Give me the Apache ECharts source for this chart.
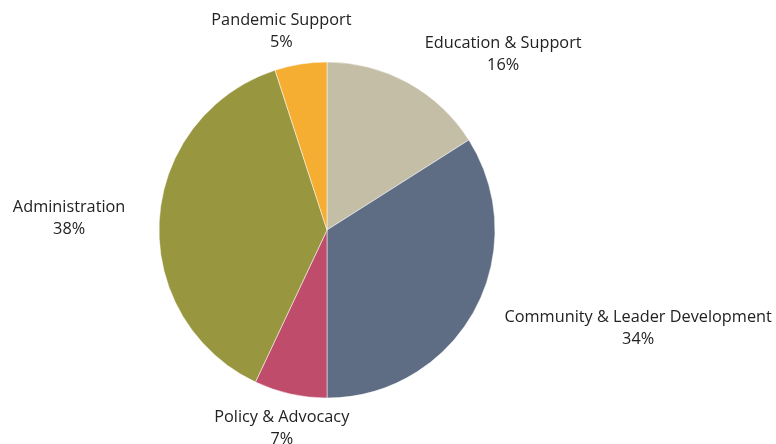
<!DOCTYPE html>
<html>
<head>
    <meta charset="utf-8">
    <title>Budget breakdown</title>
    <script src="https://cdn.jsdelivr.net/npm/echarts@6/dist/echarts.min.js"></script>
    <style>
        html, body { margin: 0; padding: 0; background: #fff; }
        #main { width: 776px; height: 444px; }
    </style>
</head>
<body>
<div id="main"></div>
<script>
    // slices, clockwise from 12 o'clock
    var categories = ['Education & Support', 'Community & Leader Development', 'Policy & Advocacy', 'Administration', 'Pandemic Support'];
    var values = [16, 34, 7, 38, 5];
    var colors = ['#c4bea6', '#5e6d84', '#c04c6b', '#98963f', '#f5ad32'];
    // nudges for each label so they sit where the original placed them
    var labelShift = [[5, -16], [13, 11], [67, 21], [-15, 0], [58, -19]];

    var data = [];
    for (var i = 0; i < categories.length; i++) {
        data.push({ name: categories[i], value: values[i], itemStyle: { color: colors[i] } });
    }

    var myChart = echarts.init(document.getElementById('main'));
    var option = {
        animation: false,
        series: [
            {
                type: 'pie',
                center: [327, 230],
                radius: 168,
                startAngle: 90,
                clockwise: true,
                data: data,
                itemStyle: { borderColor: '#fff', borderWidth: 0.5 },
                labelLine: { show: false, length: 14, length2: 0 },
                label: {
                    show: true,
                    position: 'outside',
                    formatter: '{b}\n{c}%',
                    color: '#222',
                    fontSize: 16.3,
                    lineHeight: 22,
                    fontFamily: 'Open Sans'
                },
                labelLayout: function (params) {
                    var r = params.labelRect;
                    var s = labelShift[params.dataIndex];
                    return {
                        x: r.x + r.width / 2 + s[0],
                        y: r.y + r.height / 2 + s[1],
                        align: 'center',
                        verticalAlign: 'middle'
                    };
                }
            }
        ]
    };
    myChart.setOption(option);
</script>
</body>
</html>
